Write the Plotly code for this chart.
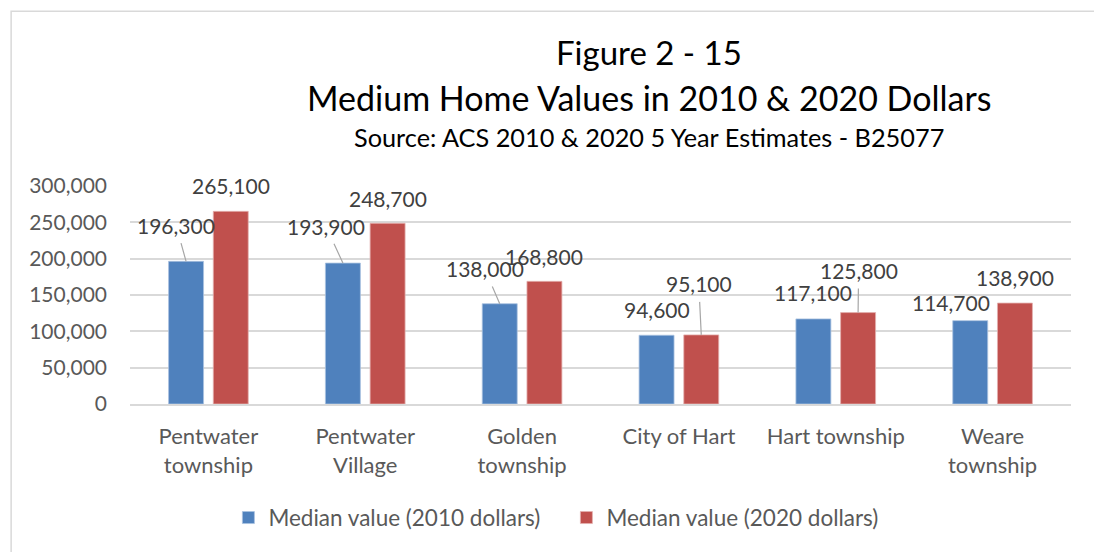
import plotly.graph_objects as go

# ---------------- data ----------------
categories = ["Pentwater<br>township", "Pentwater<br>Village", "Golden<br>township",
              "City of Hart", "Hart township", "Weare<br>township"]
values_2010 = [196300, 193900, 138000, 94600, 117100, 114700]
values_2020 = [265100, 248700, 168800, 95100, 125800, 138900]
series_names = ["Median value (2010 dollars)", "Median value (2020 dollars)"]
y_ticks = [0, 50000, 100000, 150000, 200000, 250000, 300000]
title_lines = ["Figure 2 - 15",
               "Medium Home Values in 2010 & 2020 Dollars",
               "Source: ACS 2010 & 2020 5 Year Estimates - B25077"]

# ---------------- style / layout ----------------
OFF = 8                      # page body margin of the html page
W, H = 1102 - OFF, 552 - OFF
ML = 129.5 - OFF
MT = 186 - OFF
MR = W - (1071.5 - OFF)
MB = H - (408 - OFF)
PW, PH = W - ML - MR, H - MT - MB
FONT = "Lato"
BLUE, RED = "#4F81BD", "#C0504D"
BARGAP, GROUPGAP = 0.43, 0.218
slot = (1 - BARGAP) / 2

def px_x(sx):
    return (sx - OFF - ML) / PW

def px_y(sy):
    return (H - MB - (sy - OFF)) / PH

# label offsets in pixels (dx, dy relative to bar top centre) and leader flags
offs_2010 = [(-10, -36, True), (-17, -37, True), (-15, -35, True),
             (0, -26, False), (0, -26, False), (-19.5, -18, False)]
offs_2020 = [(0, -26, False), (0, -25, False), (0, -25, False),
             (-2.5, -51, True), (0.5, -42, True), (0, -26, False)]

fig = go.Figure()
fig.add_trace(go.Bar(x=categories, y=values_2010, name=series_names[0],
                     marker=dict(color=BLUE, line=dict(color="#a9c1e0", width=0.8))))
fig.add_trace(go.Bar(x=categories, y=values_2020, name=series_names[1],
                     marker=dict(color=RED, line=dict(color="#e3b0ae", width=0.8))))

annotations = []
for series, offs, sgn in ((values_2010, offs_2010, -1), (values_2020, offs_2020, 1)):
    for i, (v, (dx, dy, lead)) in enumerate(zip(series, offs)):
        xpos = i + sgn * slot / 2
        txt = f"{v:,}"
        if lead:
            annotations.append(dict(x=xpos, y=v, xref="x", yref="y", text=txt,
                                    showarrow=True, arrowhead=0, arrowwidth=1.2,
                                    arrowcolor="#a6a6a6", ax=dx, ay=dy,
                                    startstandoff=4,
                                    font=dict(family=FONT, size=21, color="#404040")))
        else:
            annotations.append(dict(x=xpos, y=v, xref="x", yref="y", text=txt,
                                    showarrow=False, xshift=dx, yshift=-dy,
                                    font=dict(family=FONT, size=21, color="#404040")))

# titles
title_y = [50, 96, 136]
title_size = [33, 34, 25.3]
for t, yy, s in zip(title_lines, title_y, title_size):
    annotations.append(dict(x=px_x(649.5), y=px_y(yy), xref="paper", yref="paper",
                            text=t, showarrow=False, xanchor="center", yanchor="middle",
                            font=dict(family=FONT, size=s, color="#000000")))

fig.update_layout(
    width=W, height=H,
    margin=dict(l=ML, r=MR, t=MT, b=MB, pad=0),
    paper_bgcolor="white", plot_bgcolor="white",
    barmode="group", bargap=BARGAP, bargroupgap=GROUPGAP,
    font=dict(family=FONT, size=21, color="#595959"),
    showlegend=True,
    legend=dict(orientation="h", x=px_x(228), xanchor="left", y=px_y(524), yanchor="middle",
                font=dict(family=FONT, size=22.5, color="#595959"),
                entrywidth=293, entrywidthmode="pixels",
                itemclick=False, traceorder="normal"),
    annotations=annotations,
    shapes=[dict(type="rect", xref="paper", yref="paper",
                 x0=px_x(10.5), x1=px_x(1100), y0=px_y(8), y1=px_y(570),
                 line=dict(color="#d9d9d9", width=1.5), fillcolor="rgba(0,0,0,0)", layer="below")],
)
fig.update_xaxes(type="category", showgrid=False, showline=True, linecolor="#d9d9d9",
                 linewidth=1.5, ticks="", tickfont=dict(family=FONT, size=22, color="#595959"),
                 ticklabelstandoff=12)
fig.update_yaxes(range=[0, 300000], tickvals=y_ticks, tickformat=",", showgrid=True,
                 gridcolor="#d9d9d9", gridwidth=1.5, zeroline=False, showline=False, ticks="",
                 tickfont=dict(family=FONT, size=21, color="#595959"), ticklabelstandoff=22)

fig.write_html("out.html")
